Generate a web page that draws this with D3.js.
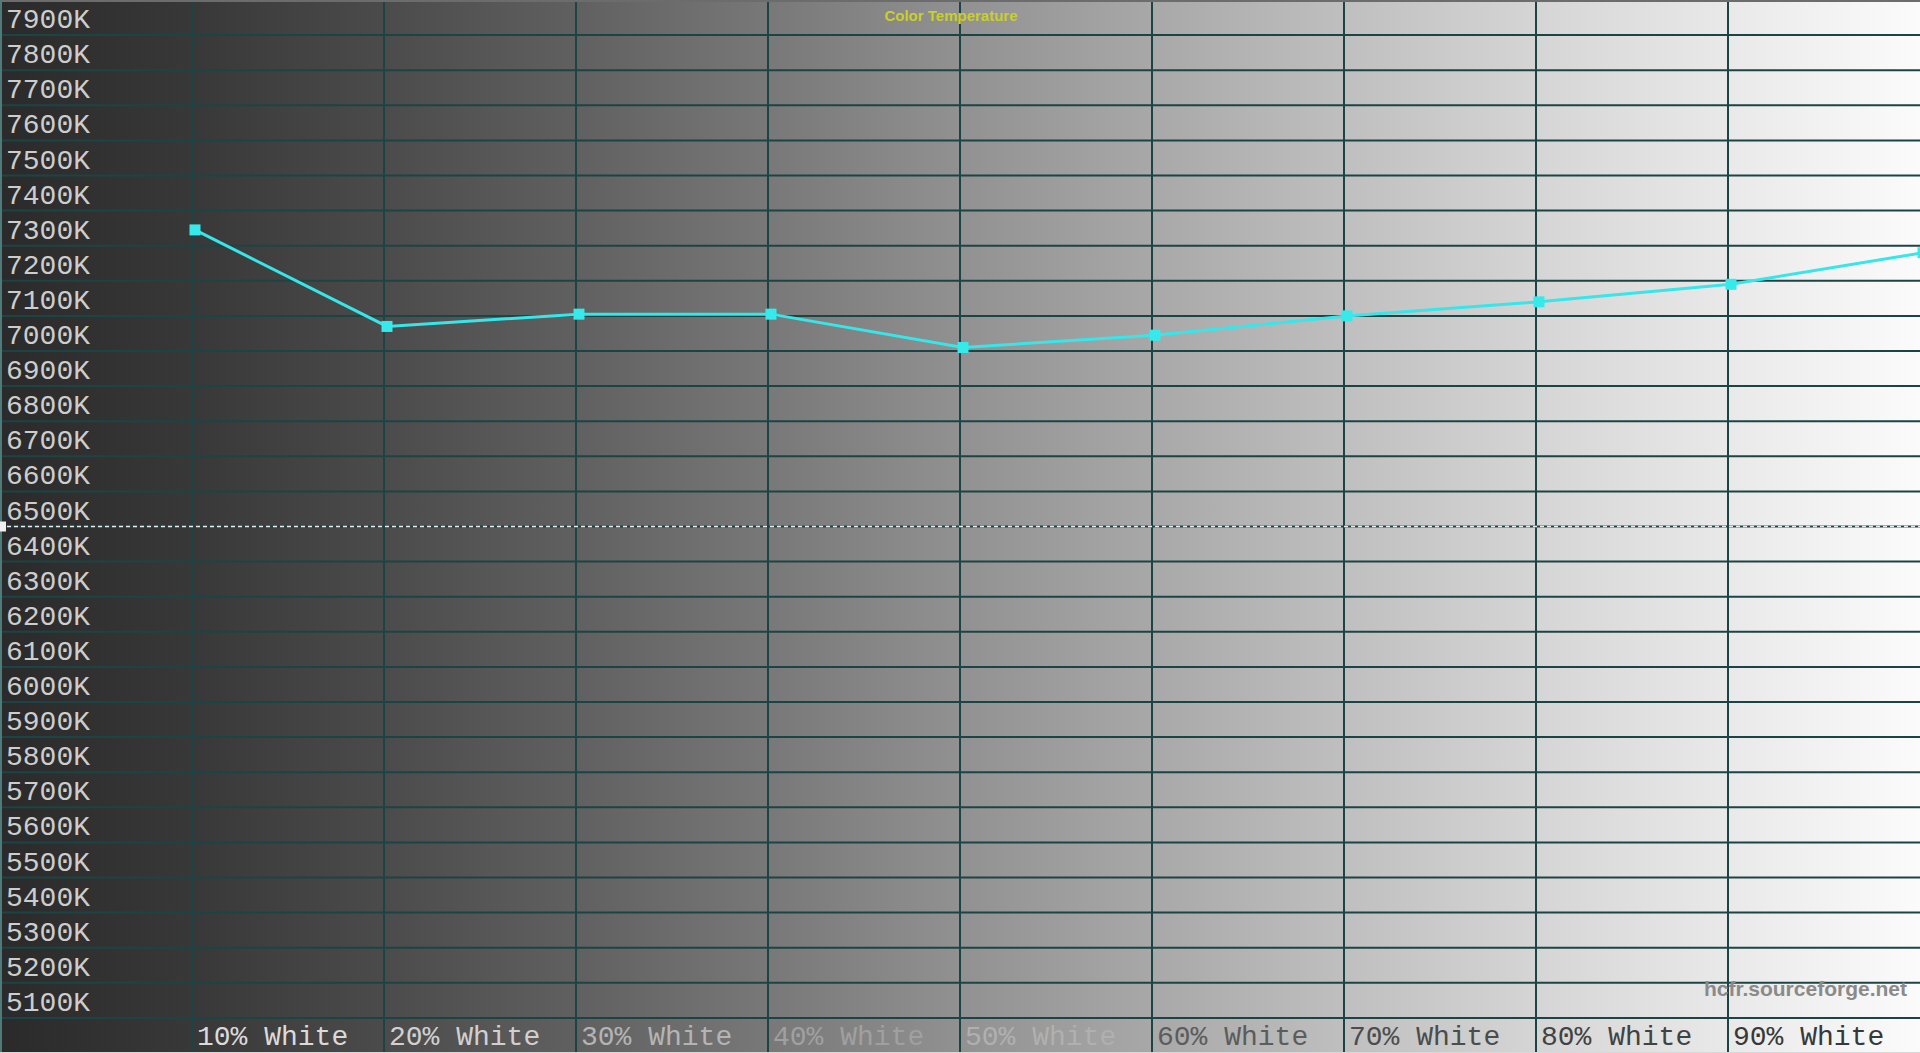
<!DOCTYPE html>
<html>
<head>
<meta charset="utf-8">
<script src="https://cdn.jsdelivr.net/npm/d3@7"></script>
<style>
  html, body { margin: 0; padding: 0; background: #2a2a2a; overflow: hidden; }
  svg { display: block; }
</style>
</head>
<body>
<svg id="chart" width="1920" height="1053"></svg>
<script>
const levels = [10, 20, 30, 40, 50, 60, 70, 80, 90, 100];
const tempK = [7345, 7070, 7105, 7105, 7010, 7045, 7100, 7140, 7190, 7280];
const levelLabels = ["10% White", "20% White", "30% White", "40% White", "50% White",
                     "60% White", "70% White", "80% White", "90% White"];
const tempTicks = d3.range(5100, 8000, 100);
const reference = 6500;

const width = 1920, height = 1053;
const svg = d3.select("#chart");

const x = d3.scaleLinear().domain([0, 100]).range([0, width]);
const y = d3.scaleLinear().domain([5000, 8000]).range([height, 0]);

// grey ramp behind the chart, dark on the left, white on the right
const bg = svg.append("defs").append("linearGradient")
    .attr("id", "bg").attr("x1", "0%").attr("x2", "100%");
[[0, "#2a2a2a"], [0.1, "#383838"], [0.2, "#4b4b4b"], [0.3, "#606060"], [0.4, "#787878"],
 [0.5, "#919191"], [0.6, "#a8a8a8"], [0.7, "#bfbfbf"], [0.8, "#d5d5d5"], [0.9, "#e9e9e9"],
 [1, "#fbfbfb"]].forEach(([o, c]) => bg.append("stop").attr("offset", o).attr("stop-color", c));

svg.append("rect").attr("width", width).attr("height", height).attr("fill", "url(#bg)");

const grid = "#1c4444";

// horizontal grid
svg.append("g")
    .selectAll("line")
    .data(tempTicks)
    .join("line")
    .attr("x1", 0).attr("x2", width)
    .attr("y1", d => y(d)).attr("y2", d => y(d))
    .attr("stroke", grid).attr("stroke-width", 2);

// vertical grid
svg.append("g")
    .selectAll("line")
    .data(levels.slice(0, -1))
    .join("line")
    .attr("x1", d => x(d)).attr("x2", d => x(d))
    .attr("y1", 0).attr("y2", height)
    .attr("stroke", grid).attr("stroke-width", 2);

// frame
svg.append("line").attr("x1", 0).attr("x2", width).attr("y1", 1).attr("y2", 1)
    .attr("stroke", "#6c6c6c").attr("stroke-width", 2);
svg.append("line").attr("x1", 1).attr("x2", 1).attr("y1", 0).attr("y2", height)
    .attr("stroke", "#4f7a7a").attr("stroke-width", 2);
svg.append("line").attr("x1", 0).attr("x2", width).attr("y1", height - 0.5).attr("y2", height - 0.5)
    .attr("stroke", "#d8d8d8").attr("stroke-width", 1);

// 6500K reference
svg.append("line")
    .attr("x1", 0).attr("x2", width)
    .attr("y1", y(reference)).attr("y2", y(reference))
    .attr("stroke", "#ececec").attr("stroke-width", 1.5)
    .attr("stroke-dasharray", "4,3");
svg.append("rect")
    .attr("x", 0).attr("y", y(reference) - 5)
    .attr("width", 6).attr("height", 10)
    .attr("fill", "#f0f0f0");

// y labels, sitting just above their grid line
svg.append("g")
    .selectAll("text")
    .data(tempTicks)
    .join("text")
    .attr("x", 6)
    .attr("y", d => y(d) - 7)
    .attr("font-family", "'Liberation Mono', 'Courier New', monospace")
    .attr("font-size", 28)
    .attr("fill", "#cdcdcd")
    .text(d => d + "K");

// x labels
const labelColor = d3.scaleLinear()
    .domain([10, 20, 30, 40, 50, 60, 70, 90])
    .range(["#dadada", "#d0d0d0", "#b4b4b4", "#a0a0a0", "#b0b0b0", "#5c5c5c", "#4c4c4c", "#383838"]);

svg.append("g")
    .selectAll("text")
    .data(levelLabels)
    .join("text")
    .attr("x", (d, i) => x(levels[i]) + 5)
    .attr("y", 1045)
    .attr("font-family", "'Liberation Mono', 'Courier New', monospace")
    .attr("font-size", 28)
    .attr("fill", (d, i) => labelColor(levels[i]))
    .text(d => d);

// title and watermark
svg.append("text")
    .attr("x", 951).attr("y", 21)
    .attr("text-anchor", "middle")
    .attr("font-family", "'Liberation Sans', Arial, sans-serif")
    .attr("font-weight", "bold")
    .attr("font-size", 15)
    .attr("fill", "#c9cf2c")
    .text("Color Temperature");

svg.append("text")
    .attr("x", 1907).attr("y", 996)
    .attr("text-anchor", "end")
    .attr("font-family", "'Liberation Sans', Arial, sans-serif")
    .attr("font-weight", "bold")
    .attr("font-size", 21)
    .attr("fill", "#8a8a8a")
    .text("hcfr.sourceforge.net");

// measured curve (markers sit a hair right of the grid lines in the original)
const nudge = 3;
const line = d3.line()
    .x((d, i) => x(levels[i]) + nudge)
    .y(d => y(d));

svg.append("path")
    .datum(tempK)
    .attr("fill", "none")
    .attr("stroke", "#36e6e8")
    .attr("stroke-width", 3)
    .attr("d", line);

svg.append("g")
    .selectAll("rect")
    .data(tempK)
    .join("rect")
    .attr("x", (d, i) => x(levels[i]) + nudge - 5.5)
    .attr("y", d => y(d) - 5.5)
    .attr("width", 11).attr("height", 11)
    .attr("fill", "#36eaec");
</script>
</body>
</html>
